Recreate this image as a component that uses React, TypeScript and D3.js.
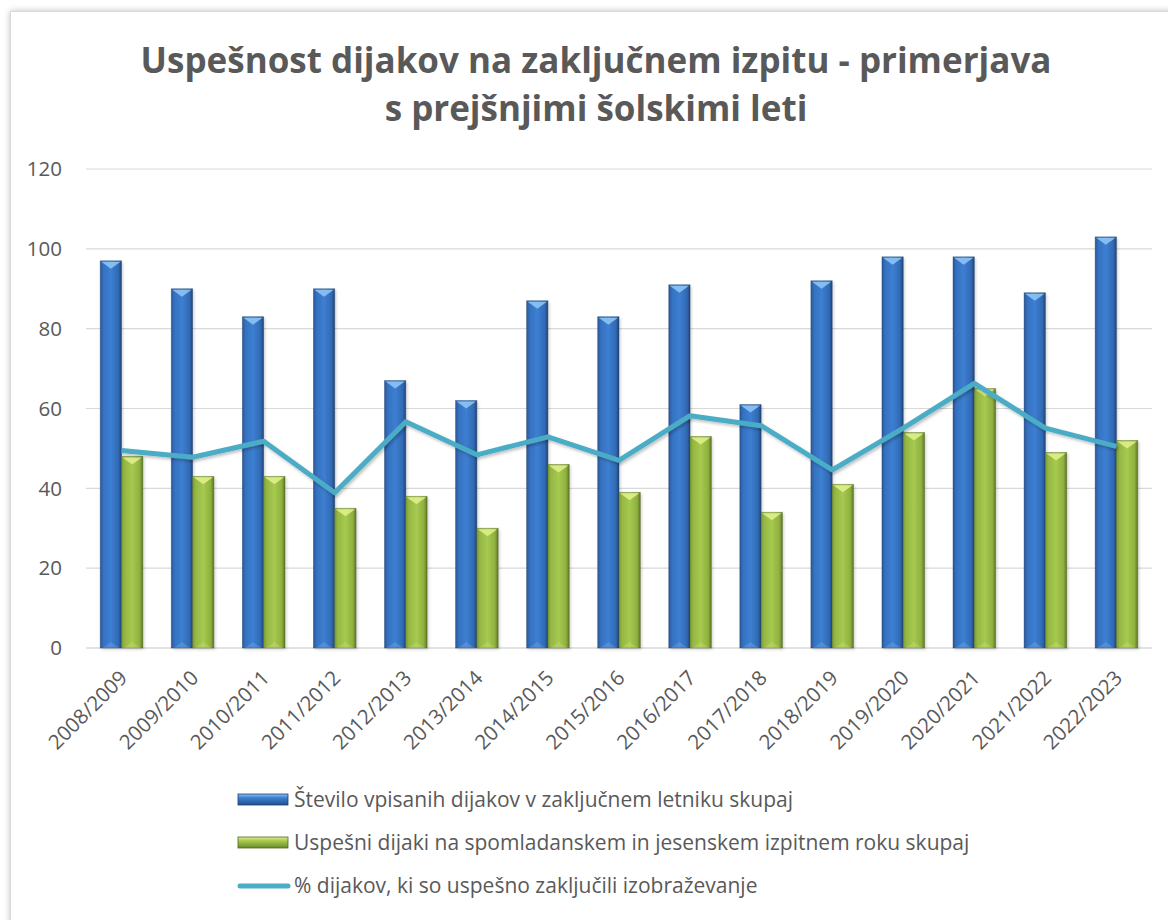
import React from 'react';
import * as d3 from 'd3';

// chart data
const years = [
  '2008/2009', '2009/2010', '2010/2011', '2011/2012', '2012/2013',
  '2013/2014', '2014/2015', '2015/2016', '2016/2017', '2017/2018',
  '2018/2019', '2019/2020', '2020/2021', '2021/2022', '2022/2023'
];
const enrolled = [97, 90, 83, 90, 67, 62, 87, 83, 91, 61, 92, 98, 98, 89, 103];
const passed = [48, 43, 43, 35, 38, 30, 46, 39, 53, 34, 41, 54, 65, 49, 52];
const percent = [49.5, 47.8, 51.8, 38.9, 56.7, 48.4, 52.9, 47.0, 58.2, 55.7, 44.6, 55.1, 66.3, 55.1, 50.5];
const yTicks = [0, 20, 40, 60, 80, 100, 120];
const titleLines = [
  'Uspešnost dijakov na zaključnem izpitu - primerjava',
  's prejšnjimi šolskimi leti'
];
const legendLabels = [
  'Število vpisanih dijakov v zaključnem letniku skupaj',
  'Uspešni dijaki na spomladanskem in jesenskem izpitnem roku skupaj',
  '% dijakov, ki so uspešno zaključili izobraževanje'
];

const W = 1168;
const H = 920;
const font = '"Open Sans", "Noto Sans", sans-serif';
const grey = '#595959';

const x = d3.scaleBand<string>().domain(years).range([86, 1152]).padding(0);
const y = d3.scaleLinear().domain([0, 120]).range([648, 169]);
const barW = x.bandwidth() * 0.3;

const line = d3
  .line<number>()
  .x((d, i) => (x(years[i]) as number) + x.bandwidth() / 2)
  .y(d => y(d));

function Bar({ x0, v, kind }: { x0: number; v: number; kind: 'b' | 'g' }) {
  const top = y(v);
  const h = y(0) - top;
  const tri = kind === 'b' ? '#8cc4f5' : '#dff08a';
  return (
    <g>
      <rect x={x0 + 1.5} y={top + 1.5} width={barW} height={h} fill="#000" opacity={0.18} filter="url(#blur)" />
      <rect x={x0} y={top} width={barW} height={h} fill={`url(#grad-${kind})`} />
      <path
        d={`M${x0 + 1},${top + 1}L${x0 + barW - 1},${top + 1}L${x0 + barW / 2},${top + 8}Z`}
        fill={tri}
        opacity={0.9}
      />
      <path
        d={`M${x0 + 2},${top + h}L${x0 + barW - 2},${top + h}L${x0 + barW / 2},${top + h - 6}Z`}
        fill={tri}
        opacity={0.25}
      />
      <rect x={x0} y={top} width={barW} height={h} fill="none" stroke={kind === 'b' ? '#1d3f6b' : '#4f6620'} strokeOpacity={0.45} strokeWidth={0.8} />
    </g>
  );
}

function Swatch({ x0, y0, kind }: { x0: number; y0: number; kind: 'b' | 'g' }) {
  return (
    <g>
      <rect x={x0} y={y0} width={50} height={11} fill={`url(#gradv-${kind})`} stroke={kind === 'b' ? '#1d3f6b' : '#4f6620'} strokeWidth={0.8} />
    </g>
  );
}

export default function App() {
  return (
    <div style={{ position: 'absolute', left: 0, top: 0 }}>
      <svg width={W} height={H} style={{ display: 'block' }}>
        <defs>
          <linearGradient id="grad-b" x1="0" x2="1" y1="0" y2="0">
            <stop offset="0" stopColor="#2a5797" />
            <stop offset="0.15" stopColor="#3571c0" />
            <stop offset="0.5" stopColor="#3d7fd2" />
            <stop offset="0.85" stopColor="#316ab4" />
            <stop offset="1" stopColor="#1f4477" />
          </linearGradient>
          <linearGradient id="grad-g" x1="0" x2="1" y1="0" y2="0">
            <stop offset="0" stopColor="#7c9c33" />
            <stop offset="0.15" stopColor="#96b844" />
            <stop offset="0.5" stopColor="#a6c94f" />
            <stop offset="0.85" stopColor="#8fb03f" />
            <stop offset="1" stopColor="#5c7623" />
          </linearGradient>
          <linearGradient id="gradv-b" x1="0" x2="0" y1="0" y2="1">
            <stop offset="0" stopColor="#8cc4f5" />
            <stop offset="0.35" stopColor="#3d7fd2" />
            <stop offset="1" stopColor="#24508c" />
          </linearGradient>
          <linearGradient id="gradv-g" x1="0" x2="0" y1="0" y2="1">
            <stop offset="0" stopColor="#dff08a" />
            <stop offset="0.35" stopColor="#a6c94f" />
            <stop offset="1" stopColor="#6b8a2a" />
          </linearGradient>
          <filter id="blur" x="-20%" y="-20%" width="140%" height="140%">
            <feGaussianBlur stdDeviation="1.5" />
          </filter>
          <filter id="boxShadow" x="-5%" y="-5%" width="110%" height="110%">
            <feDropShadow dx="0" dy="0" stdDeviation="3" floodColor="#000" floodOpacity="0.25" />
          </filter>
          <filter id="lineShadow" x="-5%" y="-20%" width="110%" height="140%">
            <feDropShadow dx="1.5" dy="2" stdDeviation="1.5" floodColor="#000" floodOpacity="0.25" />
          </filter>
        </defs>

        {/* chart area frame */}
        <rect x={10.5} y={11.5} width={1200} height={960} fill="#fff" stroke="#d9d9d9" strokeWidth={1} filter="url(#boxShadow)" />

        {/* title */}
        <text fill={grey} fontFamily={font} fontWeight={700} fontSize={35} textAnchor="middle">
          {titleLines.map((t, i) => (
            <tspan key={i} x={596} y={73 + i * 48}>{t}</tspan>
          ))}
        </text>

        {/* gridlines and y ticks */}
        {yTicks.map(t => (
          <g key={t}>
            <line x1={86} x2={1152} y1={y(t)} y2={y(t)} stroke="#d9d9d9" strokeWidth={t === 0 ? 1.5 : 1.2} />
            <text x={62} y={y(t)} dy="0.35em" textAnchor="end" fill={grey} fontFamily={font} fontSize={20.5}>{t}</text>
          </g>
        ))}

        {/* bars */}
        {years.map((yr, i) => {
          const c = (x(yr) as number) + x.bandwidth() / 2;
          return (
            <g key={yr}>
              <Bar x0={c - barW} v={enrolled[i]} kind="b" />
              <Bar x0={c} v={passed[i]} kind="g" />
            </g>
          );
        })}

        {/* line */}
        <path d={line(percent) || ''} fill="none" stroke="#4bacc6" strokeWidth={5} strokeLinejoin="round" filter="url(#lineShadow)" />

        {/* x labels */}
        {years.map(yr => {
          const c = (x(yr) as number) + x.bandwidth() / 2;
          return (
            <text
              key={yr}
              transform={`translate(${c + 2},${674}) rotate(-45)`}
              textAnchor="end"
              fill={grey}
              fontFamily={font}
              fontSize={20.5}
              dy="0.35em"
            >
              {yr}
            </text>
          );
        })}

        {/* legend */}
        {legendLabels.map((l, i) => {
          const ly = 800 + i * 43;
          return (
            <g key={l}>
              {i < 2 ? (
                <Swatch x0={238} y0={ly - 6} kind={i === 0 ? 'b' : 'g'} />
              ) : (
                <line x1={240} x2={288} y1={ly} y2={ly} stroke="#4bacc6" strokeWidth={5} strokeLinecap="round" />
              )}
              <text x={294} y={ly} dy="0.35em" fill={grey} fontFamily={font} fontSize={21}>{l}</text>
            </g>
          );
        })}
      </svg>
    </div>
  );
}
